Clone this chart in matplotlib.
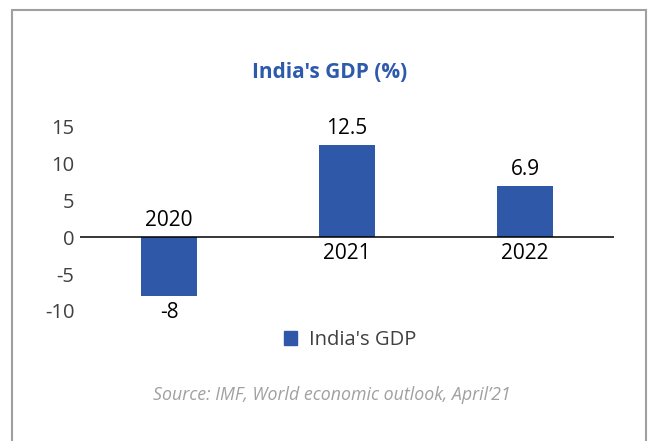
import matplotlib.pyplot as plt
from matplotlib.patches import Rectangle

plt.rcParams['font.family'] = ['Open Sans', 'DejaVu Sans']

# chart data
years = ['2020', '2021', '2022']
gdp = [-8, 12.5, 6.9]
yticks = [-10, -5, 0, 5, 10, 15]

BLUE = '#2F59A8'

fig = plt.figure(figsize=(6.48, 4.41), dpi=100)
ax = fig.add_axes([80 / 648, 1 - 311 / 441, 534 / 648, (311 - 126.3) / 441])

x = list(range(len(years)))
ax.bar(x, gdp, width=0.315, color=BLUE, zorder=2)
ax.axhline(0, color='black', linewidth=1.1, zorder=3)

ax.set_xlim(-0.5, len(years) - 0.5)
ax.set_ylim(min(yticks), max(yticks))
ax.set_yticks(yticks)
ax.set_yticklabels([str(t) for t in yticks], fontsize=14.5, color='#404040')
ax.tick_params(axis='y', length=0, pad=4)
ax.set_xticks([])
for s in ax.spines.values():
    s.set_visible(False)

# value labels and category labels on opposite sides of the bars
for xi, v, yr in zip(x, gdp, years):
    sign = 1 if v >= 0 else -1
    ax.annotate(f'{v:g}', (xi, v), xytext=(0, 12 * sign), textcoords='offset points',
                ha='center', va='center', fontsize=15, color='black')
    ax.annotate(yr, (xi, 0), xytext=(0, -12 * sign), textcoords='offset points',
                ha='center', va='center', fontsize=15, color='black')

fig.text(0.509, 1 - 72 / 441, "India's GDP (%)", ha='center', va='center',
         fontsize=15, fontweight='bold', color='#2E5AAC')

handle = Rectangle((0, 0), 1, 1, color=BLUE)
fig.legend([handle], ["India's GDP"], loc='center', bbox_to_anchor=(350 / 648, 1 - 340 / 441),
           frameon=False, fontsize=14.5, handlelength=0.65, handleheight=0.65,
           handletextpad=0.6, labelcolor='#404040')

fig.text(331.5 / 648, 1 - 395 / 441, "Source: IMF, World economic outlook, April\u201921",
         ha='center', va='center', fontsize=12.8, style='italic', color='#a0a0a0')

# outer frame
fig.patches.append(Rectangle((12 / 648, -0.1), (646 - 12) / 648, 1.1 - 10 / 441,
                             transform=fig.transFigure, fill=False,
                             edgecolor='#a0a0a0', linewidth=1.5))

fig.savefig('out.png', dpi=100)
